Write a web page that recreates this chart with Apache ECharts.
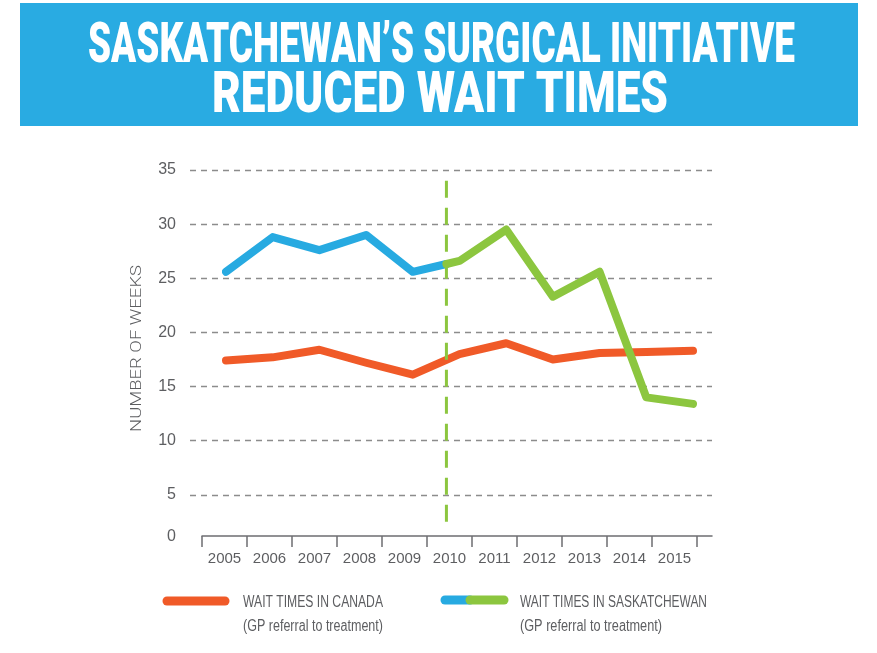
<!DOCTYPE html>
<html><head><meta charset="utf-8">
<script src="https://cdn.jsdelivr.net/npm/echarts@6/dist/echarts.min.js"></script>
<style>html,body{margin:0;padding:0;background:#fff}#c{width:877px;height:653px}</style>
</head><body><div id="c"></div>
<script>
// ---- data ----
const years = ['2005','2006','2007','2008','2009','2010','2011','2012','2013','2014','2015'];
const yearValues = [2005,2006,2007,2008,2009,2010,2011,2012,2013,2014,2015];
const canada = [17.4,17.7,18.4,17.2,16.1,18.0,19.0,17.5,18.1,18.2,18.3];
const saskatchewan = [25.6,28.8,27.6,29.0,25.6,26.6,29.5,23.3,25.6,14.0,13.4];
const initiativeStart = 2009.72;   // dashed marker where the surgical initiative begins
const markerRange = [2, 34];       // vertical extent of dashed marker (weeks)
const yTicks = [0,5,10,15,20,25,30,35];
const titleLines = ['SASKATCHEWAN\u2019S SURGICAL INITIATIVE','REDUCED WAIT TIMES'];
const axisTitle = 'NUMBER OF WEEKS';
const legendCanada = ['WAIT TIMES IN CANADA','(GP referral to treatment)'];
const legendSask = ['WAIT TIMES IN SASKATCHEWAN','(GP referral to treatment)'];

// ---- styles ----
const C_ORANGE = '#f05a28', C_BLUE = '#27aae1', C_GREEN = '#8cc63f', C_TITLE = '#29abe2';
const C_TEXT = '#5d5e61', C_AXIS = '#6d6e71', C_GRID = '#8c8c8c';
const SANS = '"Liberation Sans","Roboto",sans-serif';
const TITLEF = '"Roboto","Liberation Sans",sans-serif';

const ctx = document.createElement('canvas').getContext('2d');
function fit(text, font, width){ ctx.font = font; return width / ctx.measureText(text).width; }

// split Saskatchewan series at the initiative marker
const i0 = yearValues.findIndex(y => y > initiativeStart) - 1;
const t = (initiativeStart - yearValues[i0]) / (yearValues[i0+1] - yearValues[i0]);
const junction = saskatchewan[i0] + t * (saskatchewan[i0+1] - saskatchewan[i0]);
const beforeData = yearValues.slice(0, i0+1).map((y,i)=>[y, saskatchewan[i]]).concat([[initiativeStart, junction]]);
const afterData = [[initiativeStart, junction]].concat(yearValues.slice(i0+1).map((y,i)=>[y, saskatchewan[i0+1+i]]));
const canadaData = yearValues.map((y,i)=>[y, canada[i]]);

function txt(text, x, y, font, size, width, opts){
  const f = font.replace('SZ', size+'px');
  const s = fit(text, f, width);
  return Object.assign({
    type:'text', x:x, y:y, scaleX:s, silent:true,
    style:{ text:text, font:f, fill: (opts&&opts.fill)||C_TEXT,
      align:(opts&&opts.align)||'left', textAlign:(opts&&opts.align)||'left',
      verticalAlign:'middle', textVerticalAlign:'middle' }
  }, opts && opts.extra);
}

const chart = echarts.init(document.getElementById('c'), null, {renderer:'canvas'});
chart.setOption({
  animation:false,
  backgroundColor:'#fff',
  grid:[
    {left:190, right:165, top:170, bottom:104},  // y gridlines
    {left:202, right:180, top:170, bottom:117},  // category labels & ticks
    {left:202, right:165, top:170, bottom:117},  // x axis line
    {left:226, right:184, top:170, bottom:104}   // data
  ],
  xAxis:[
    {gridIndex:0, type:'value', show:false, min:0, max:1},
    {gridIndex:1, type:'category', data:years, boundaryGap:true,
      axisLine:{show:false},
      axisTick:{show:true, length:11, lineStyle:{color:C_AXIS, width:1.5}},
      axisLabel:{color:C_TEXT, fontFamily:SANS, fontSize:15, margin:15, interval:0},
      splitLine:{show:false}},
    {gridIndex:2, type:'value', min:0, max:1,
      axisLine:{show:true, lineStyle:{color:C_AXIS, width:1.5}},
      axisTick:{show:false}, axisLabel:{show:false}, splitLine:{show:false}},
    {gridIndex:3, type:'value', show:false, min:yearValues[0], max:yearValues[yearValues.length-1]}
  ],
  yAxis:[
    {gridIndex:0, type:'value', min:yTicks[0], max:yTicks[yTicks.length-1], interval:yTicks[1]-yTicks[0],
      axisLine:{show:false}, axisTick:{show:false},
      axisLabel:{color:C_TEXT, fontFamily:SANS, fontSize:16, margin:14,
        formatter: v => v === 0 ? '{z|0}' : String(v),
        rich:{ z:{ color:C_TEXT, fontFamily:SANS, fontSize:16, padding:[0,0,24,0] } } },
      splitLine:{show:true, showMinLine:false, lineStyle:{color:C_GRID, type:[6,5], width:1.3}}},
    {gridIndex:1, type:'value', show:false, min:0, max:1},
    {gridIndex:2, type:'value', show:false, min:0, max:1},
    {gridIndex:3, type:'value', show:false, min:yTicks[0], max:yTicks[yTicks.length-1]}
  ],
  series:[
    {name:'Canada', type:'line', xAxisIndex:3, yAxisIndex:3, data:canadaData, symbol:'none',
      lineStyle:{color:C_ORANGE, width:8, cap:'round', join:'round'}, z:3},
    {name:'Saskatchewan (before)', type:'line', xAxisIndex:3, yAxisIndex:3, data:beforeData, symbol:'none',
      lineStyle:{color:C_BLUE, width:8, cap:'round', join:'round'}, z:4},
    {name:'Saskatchewan (after)', type:'line', xAxisIndex:3, yAxisIndex:3, data:afterData, symbol:'none',
      lineStyle:{color:C_GREEN, width:8, cap:'round', join:'round'}, z:5},
    {name:'Initiative', type:'line', xAxisIndex:3, yAxisIndex:3,
      data:[[initiativeStart, markerRange[1]],[initiativeStart, markerRange[0]]], symbol:'none',
      lineStyle:{color:C_GREEN, width:3, type:[17,10]}, z:6}
  ],
  graphic:[
    {type:'rect', shape:{x:20, y:3, width:838, height:123}, style:{fill:C_TITLE}, silent:true, z:0},
    txt(titleLines[0], 441.5, 48, '900 SZ '+TITLEF, 55, 707, {fill:'#fff', align:'center'}),
    txt(titleLines[1], 440, 97, '900 SZ '+TITLEF, 58, 456, {fill:'#fff', align:'center'}),
    txt(axisTitle, 137, 348.5, '300 SZ '+TITLEF, 14, 167, {align:'center', extra:{rotation:Math.PI/2}}),
    {type:'line', shape:{x1:167, y1:601, x2:225, y2:601}, style:{stroke:C_ORANGE, lineWidth:9, lineCap:'round'}, silent:true},
    {type:'line', shape:{x1:445, y1:600, x2:470, y2:600}, style:{stroke:C_BLUE, lineWidth:9, lineCap:'round'}, silent:true},
    {type:'line', shape:{x1:470, y1:600, x2:504, y2:600}, style:{stroke:C_GREEN, lineWidth:9, lineCap:'round'}, silent:true},
    txt(legendCanada[0], 243, 603, 'SZ '+SANS, 16, 140),
    txt(legendCanada[1], 243, 627, 'SZ '+SANS, 16, 140),
    txt(legendSask[0], 520, 603, 'SZ '+SANS, 16, 187),
    txt(legendSask[1], 520, 627, 'SZ '+SANS, 16, 142)
  ]
});
</script></body></html>
